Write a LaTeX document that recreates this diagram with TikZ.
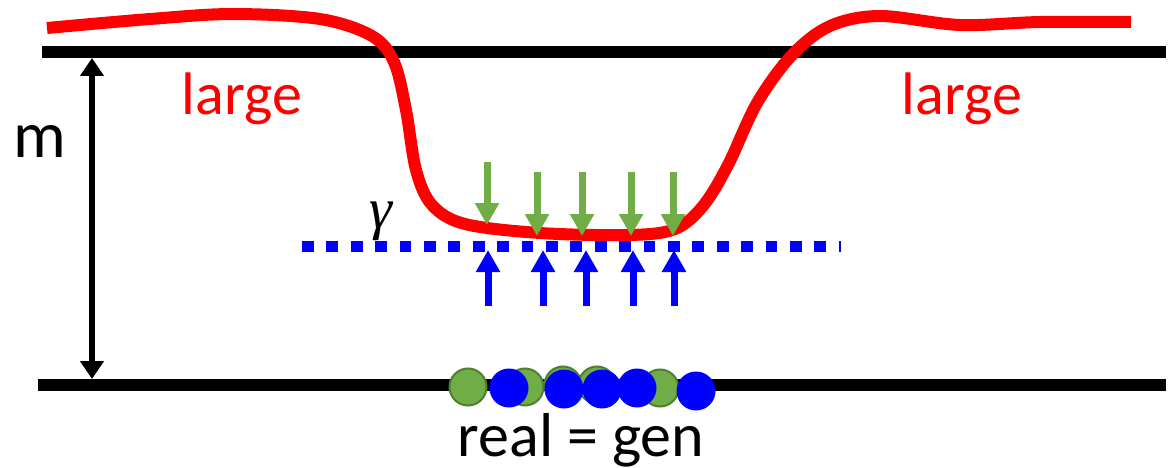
\documentclass[tikz,border=0pt]{standalone}
\usepackage{fontspec}
\setmainfont{Carlito}
\newfontfamily\greekfont{Liberation Serif}
\usetikzlibrary{arrows.meta}
\definecolor{mygreen}{HTML}{70AD47}
\definecolor{mygreendark}{HTML}{507E32}
\definecolor{myblue}{HTML}{0000FF}
\definecolor{myred}{HTML}{FF0000}
\tikzset{
  rail/.style={line width=12pt, black},
  bigtext/.style={inner sep=0pt, anchor=base, font=\fontsize{60}{72}\selectfont},
  downarrow/.style={mygreen, line width=7pt, -{Triangle[width=23pt,length=22pt]}},
  uparrow/.style={myblue, line width=7pt, -{Triangle[width=23pt,length=22pt]}},
  gdot/.style={circle, fill=mygreen, draw=mygreendark, line width=2pt, minimum size=37pt, inner sep=0pt},
  bdot/.style={circle, fill=myblue, minimum size=39pt, inner sep=0pt},
}
\begin{document}
\begin{tikzpicture}[x=1pt,y=-1pt]
\useasboundingbox (0,0) rectangle (1173,468);
% rails
\coordinate (tl) at (42,52);
\coordinate (tr) at (1166,52);
\coordinate (bl) at (38,385);
\coordinate (br) at (1166,385);
\draw[rail] (tl) -- (tr);
\draw[rail] (bl) -- (br);
% margin double arrow
\coordinate (mt) at (92,58);
\coordinate (mb) at (92,379);
\draw[line width=6pt, {Triangle[width=23pt,length=18pt]}-{Triangle[width=23pt,length=18pt]}] (mt) -- (mb);
\node[bigtext, font=\fontsize{66}{78}\selectfont] (m) at (40,158) {m};
% dotted gamma line
\coordinate (gl) at (302,246.5);
\coordinate (gr) at (841,246.5);
\draw[myblue, line width=11pt, dash pattern=on 11.7pt off 12.7pt] (gl) -- (gr);
\node[inner sep=0pt, font=\greekfont\itshape\fontsize{58}{66}\selectfont] (gamma) at (381,221) {γ};
% red curve
\draw[myred, line width=12pt, line cap=butt] plot[smooth, tension=0.55] coordinates {
 (47,28) (150,19) (233,14) (320,19) (372,36) (394,62) (406,110) (416,170) (432,205) (465,224) (540,233) (630,235) (675,229) (703,206) (728,165) (757,103) (792,55) (830,26) (880,16) (960,25) (1040,22) (1131,22)};
\node[bigtext, myred] (largeL) at (242,115) {large};
\node[bigtext, myred] (largeR) at (962,115) {large};
% green arrows
\foreach \x/\t/\s [count=\i] in {487/162/225, 537/172/236, 582/172/236, 631/172/236, 673/172/236} {
  \coordinate (gs\i) at (\x,\t);
  \coordinate (ge\i) at (\x,\s);
  \draw[downarrow] (gs\i) -- (ge\i);
}
% blue arrows
\foreach \x [count=\i] in {488, 543, 586, 633, 674} {
  \coordinate (bs\i) at (\x,306);
  \coordinate (be\i) at (\x,250);
  \draw[uparrow] (bs\i) -- (be\i);
}
% dots
\node[gdot] (g1) at (468,387) {};
\node[gdot] (g2) at (525,387) {};
\node[gdot] (g3) at (563,385) {};
\node[gdot] (g4) at (597,385) {};
\node[gdot] (g5) at (660,388) {};
\node[bdot] (b1) at (509,388) {};
\node[bdot] (b2) at (564,389) {};
\node[bdot] (b3) at (602,389) {};
\node[bdot] (b4) at (637,388) {};
\node[bdot] (b5) at (696,391) {};
\node[bigtext, font=\fontsize{62}{74}\selectfont] (rg) at (581,456) {real = gen};
\end{tikzpicture}
\end{document}
